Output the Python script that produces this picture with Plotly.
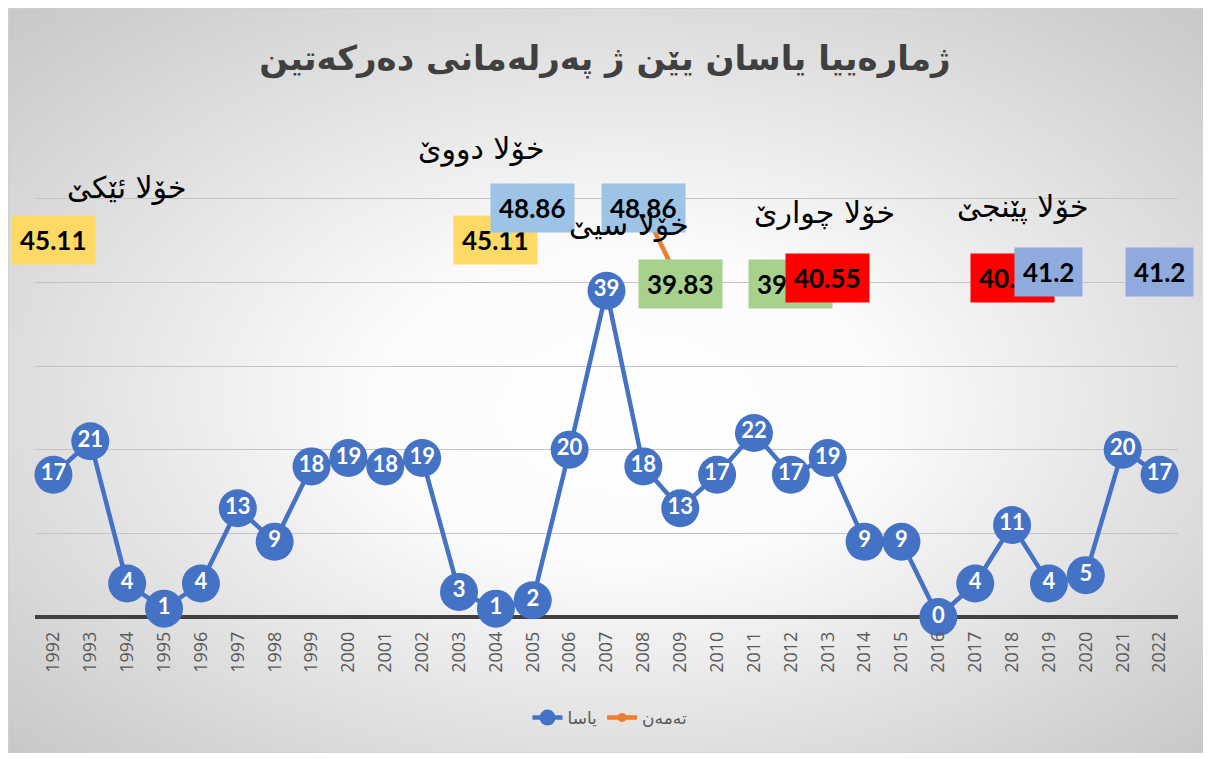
import base64
import plotly.graph_objects as go

# ---------------- data ----------------
years = list(range(1992, 2023))
yasa = [17, 21, 4, 1, 4, 13, 9, 18, 19, 18, 19, 3, 1, 2, 20, 39, 18, 13, 17, 22,
        17, 19, 9, 9, 0, 4, 11, 4, 5, 20, 17]
temen_years = [1992, 2004, 2005, 2008, 2009, 2012, 2013, 2018, 2019, 2022]
temen_vals = [45.11, 45.11, 48.86, 48.86, 39.83, 39.83, 40.55, 40.55, 41.2, 41.2]
temen_text = ["45.11", "45.11", "48.86", "48.86", "39.83", "39.83", "40.55", "40.55", "41.2", "41.2"]
temen_label_colors = ["#FFD966", "#FFD966", "#9DC3E6", "#9DC3E6", "#A9D18E", "#A9D18E",
                      "#FF0000", "#FF0000", "#8FAADC", "#8FAADC"]
round_names = ["خۆلا ئێکێ", "خۆلا دووێ", "خۆلا سیێ", "خۆلا چوارێ", "خۆلا پێنجێ"]
round_x = [1994.0, 2003.6, 2007.6, 2012.9, 2018.3]
round_y = [51.3, 55.9, 46.9, 48.3, 49.0]
title_text = "ژمارەییا یاسان یێن ژ پەرلەمانی دەرکەتین"
name_yasa = "یاسا"
name_temen = "تەمەن"

temen_map = dict(zip(temen_years, temen_vals))
temen_full = [temen_map.get(y) for y in years]

W, H = 1211, 758
OFF = 8  # page body margin
L, R, T, B = 35 - OFF, 41, 115 - OFF, 758 - (617 - OFF)
pw, ph = W - L - R, H - T - B

fig = go.Figure()

fig.add_trace(go.Scatter(
    x=years, y=yasa, name=name_yasa, mode="lines+markers+text",
    text=[str(v) for v in yasa], textposition="middle center",
    textfont=dict(family="Lato", size=22, color="white", weight="bold"),
    line=dict(color="#4472C4", width=4.5),
    marker=dict(size=38, color="#4472C4", line=dict(width=0)),
    cliponaxis=False,
))
fig.add_trace(go.Scatter(
    x=years, y=temen_full, name=name_temen, mode="lines+markers",
    connectgaps=False,
    line=dict(color="#ED7D31", width=4.5),
    marker=dict(size=9, color="#ED7D31"),
    cliponaxis=False,
))

annotations = []
for x, v, t, c in zip(temen_years, temen_vals, temen_text, temen_label_colors):
    annotations.append(dict(
        x=x, y=v, xref="x", yref="y", text=t,
        showarrow=False, bgcolor=c, borderpad=8,
        font=dict(family="Lato", size=26, color="black", weight="bold"),
        xanchor="center", yanchor="middle",
    ))
for n, x, y in zip(round_names, round_x, round_y):
    annotations.append(dict(
        x=x, y=y, xref="x", yref="y", text=n, showarrow=False,
        font=dict(family="DejaVu Sans", size=30, color="black"),
        xanchor="center", yanchor="middle",
    ))

# radial gradient background (chart area)
gw, gh = 1201, 745
svg = (
    f'<svg xmlns="http://www.w3.org/2000/svg" width="{gw}" height="{gh}" viewBox="0 0 {gw} {gh}" preserveAspectRatio="none">'
    '<defs><radialGradient id="g" cx="0.5" cy="0.5" r="0.72" fx="0.52" fy="0.55">'
    '<stop offset="0" stop-color="#FFFFFF"/><stop offset="0.3" stop-color="#FBFBFB"/>'
    '<stop offset="1" stop-color="#C6C6C6"/></radialGradient></defs>'
    f'<rect x="0" y="0" width="{gw}" height="{gh}" fill="url(#g)" stroke="#D0D0D0" stroke-width="1.5"/></svg>'
)
src = "data:image/svg+xml;base64," + base64.b64encode(svg.encode()).decode()

fig.update_layout(
    width=W, height=H,
    margin=dict(l=L, r=R, t=T, b=B),
    paper_bgcolor="white", plot_bgcolor="rgba(0,0,0,0)",
    images=[dict(source=src, xref="paper", yref="paper",
                 x=(0 - L) / pw, y=(H - B) / ph,
                 sizex=gw / pw, sizey=gh / ph,
                 xanchor="left", yanchor="top", sizing="stretch", layer="below")],
    title=dict(text=title_text, x=(605 - OFF) / W, xanchor="center", y=1 - (58 - OFF) / H,
               yanchor="middle", yref="container",
               font=dict(family="DejaVu Sans", size=34, color="#404040", weight="bold")),
    showlegend=True,
    legend=dict(orientation="h", x=(610 - OFF - L) / pw, xanchor="center",
                y=(H - B - (718 - OFF)) / ph,
                yanchor="middle", font=dict(family="DejaVu Sans", size=17, color="#595959"),
                bgcolor="rgba(0,0,0,0)"),
    annotations=annotations,
    xaxis=dict(range=[1991.5, 2022.5], tickmode="array", tickvals=years,
               ticktext=[str(y) for y in years], tickangle=-90,
               tickfont=dict(family="Open Sans", size=18, color="#595959"),
               showgrid=False, zeroline=False, showline=False, ticks="",
               ticklabelstandoff=10, fixedrange=True),
    yaxis=dict(range=[0, 60], dtick=10, showticklabels=False, showgrid=True,
               gridcolor="#C4C4C4", gridwidth=1.3, zeroline=True,
               zerolinecolor="#404040", zerolinewidth=3.5, showline=False, ticks=""),
)

fig.write_html("out.html")
